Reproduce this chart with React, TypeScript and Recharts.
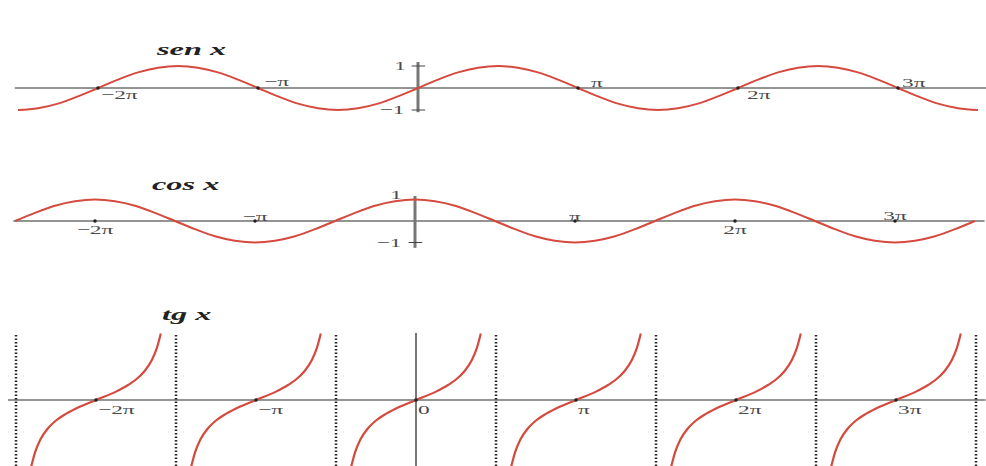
import { ComposedChart, Line, XAxis, YAxis, ReferenceLine, ReferenceDot } from "recharts"

// x positions are in multiples of π
const waveX = [
  -2.5, -2.375, -2.25, -2.125, -2, -1.875, -1.75, -1.625, -1.5, -1.375, -1.25, -1.125,
  -1, -0.875, -0.75, -0.625, -0.5, -0.375, -0.25, -0.125, 0, 0.125, 0.25, 0.375,
  0.5, 0.625, 0.75, 0.875, 1, 1.125, 1.25, 1.375, 1.5, 1.625, 1.75, 1.875,
  2, 2.125, 2.25, 2.375, 2.5, 2.625, 2.75, 2.875, 3, 3.125, 3.25, 3.375, 3.5,
]

const senValues = [
  -1, -0.92, -0.71, -0.38, 0, 0.38, 0.71, 0.92, 1, 0.92, 0.71, 0.38, 0, -0.38, -0.71, -0.92,
  -1, -0.92, -0.71, -0.38, 0, 0.38, 0.71, 0.92, 1, 0.92, 0.71, 0.38, 0, -0.38, -0.71, -0.92,
  -1, -0.92, -0.71, -0.38, 0, 0.38, 0.71, 0.92, 1, 0.92, 0.71, 0.38, 0, -0.38, -0.71, -0.92,
  -1,
]

const cosValues = [
  0, 0.38, 0.71, 0.92, 1, 0.92, 0.71, 0.38, 0, -0.38, -0.71, -0.92, -1, -0.92, -0.71, -0.38,
  0, 0.38, 0.71, 0.92, 1, 0.92, 0.71, 0.38, 0, -0.38, -0.71, -0.92, -1, -0.92, -0.71, -0.38,
  0, 0.38, 0.71, 0.92, 1, 0.92, 0.71, 0.38, 0, -0.38, -0.71, -0.92, -1, -0.92, -0.71, -0.38,
  0,
]

// one branch of tg x, offsets from the branch centre (in π)
const tgOffsets = [-0.405, -0.38, -0.35, -0.3, -0.25, -0.2, -0.125, 0, 0.125, 0.2, 0.25, 0.3, 0.35, 0.38, 0.405]
const tgValues = [-3.25, -2.53, -1.96, -1.38, -1, -0.73, -0.41, 0, 0.41, 0.73, 1, 1.38, 1.96, 2.53, 3.25]
const tgCenters = [-2, -1, 0, 1, 2, 3]
const tgAsymptotes = [-2.5, -1.5, -0.5, 0.5, 1.5, 2.5, 3.5]

const senTicks = [-2, -1, 1, 2, 3]
const senTickLabels = ["−2π", "−π", "π", "2π", "3π"]
const cosTicks = [-2, -1, 1, 2, 3]
const cosTickLabels = ["−2π", "−π", "π", "2π", "3π"]
const tgTicks = [-2, -1, 0, 1, 2, 3]
const tgTickLabels = ["−2π", "−π", "0", "π", "2π", "3π"]

const senData = waveX.map((x, i) => ({ x, y: senValues[i] }))
const cosData = waveX.map((x, i) => ({ x, y: cosValues[i] }))
const tgData = tgCenters.flatMap((c) => [
  ...tgOffsets.map((o, i) => ({ x: c + o, y: tgValues[i] as number | null })),
  { x: c + 0.5, y: null },
])

const SERIF = '"Liberation Serif", "DejaVu Serif", serif'
const RED = "#d64a3e"
const AXIS = "#2a2a2a"
const W = 986
const STRETCH = 1.8

const Stretched = ({ x, y, text, anchor = "start", size = 13, fill = "#4a4a4a" }: any) => (
  <text
    transform={`translate(${x},${y}) scale(${STRETCH},1)`}
    textAnchor={anchor}
    dominantBaseline="central"
    fontFamily={SERIF}
    fontSize={size}
    fill={fill}
  >
    {text}
  </text>
)

// tick dot on the x axis with its label
const tickShape = (text: string, dx: number, dy: number, anchor: string, dot: boolean) => (p: any) => (
  <g>
    {dot && <circle cx={p.cx} cy={p.cy} r={1.8} fill="#222" />}
    <Stretched x={p.cx + dx} y={p.cy + dy} text={text} anchor={anchor} />
  </g>
)

const Title = ({ left, top, text }: { left: number; top: number; text: string }) => (
  <div
    style={{
      position: "absolute",
      left,
      top,
      fontFamily: SERIF,
      fontStyle: "italic",
      fontWeight: "bold",
      fontSize: 17,
      lineHeight: "17px",
      color: "#222",
      transform: `scaleX(1.9)`,
      transformOrigin: "left center",
      whiteSpace: "nowrap",
    }}
  >
    {text}
  </div>
)

const senPlacement = [
  { dx: 3, dy: 7 },
  { dx: 6, dy: -6 },
  { dx: 13, dy: -5 },
  { dx: 9, dy: 7 },
  { dx: 4, dy: -5 },
]
const cosPlacement = [
  { dy: 9 },
  { dy: -4 },
  { dy: -4 },
  { dy: 9 },
  { dy: -5 },
]

export default function App() {
  return (
    <div style={{ position: "absolute", left: 0, top: 0, width: W, height: 466, background: "#fff", overflow: "hidden" }}>
      <Title left={157} top={41} text="sen x" />
      <Title left={152} top={176} text="cos x" />
      <Title left={162} top={306} text="tg x" />

      {/* sen x */}
      <div style={{ position: "absolute", left: 0, top: 44 }}>
        <ComposedChart width={W} height={88} data={senData} margin={{ top: 0, right: 0, bottom: 0, left: 0 }}>
          <XAxis type="number" dataKey="x" domain={[-418 / 160, 568 / 160]} hide allowDataOverflow />
          <YAxis type="number" domain={[-2, 2]} hide allowDataOverflow />
          <ReferenceLine segment={[{ x: -2.52, y: 0 }, { x: 3.55, y: 0 }]} stroke={AXIS} strokeWidth={1.2} />
          <ReferenceLine segment={[{ x: 0, y: -1.1 }, { x: 0, y: 1.18 }]} stroke="#777" strokeWidth={3} />
          <ReferenceLine segment={[{ x: -0.04, y: 1 }, { x: 0.045, y: 1 }]} stroke="#444" />
          <ReferenceLine segment={[{ x: -0.04, y: -1 }, { x: 0.045, y: -1 }]} stroke="#444" />
          <ReferenceDot x={0} y={1} r={0} shape={tickShape("1", -18, 0, "middle", false)} />
          <ReferenceDot x={0} y={-1} r={0} shape={tickShape("−1", -26, 0, "middle", false)} />
          {senTicks.map((t, i) => (
            <ReferenceDot
              key={t}
              x={t}
              y={0}
              r={2}
              shape={tickShape(senTickLabels[i], senPlacement[i].dx, senPlacement[i].dy, "start", true)}
            />
          ))}
          <Line dataKey="y" type="monotone" stroke={RED} strokeWidth={2} dot={false} isAnimationActive={false} />
        </ComposedChart>
      </div>

      {/* cos x */}
      <div style={{ position: "absolute", left: 0, top: 178 }}>
        <ComposedChart width={W} height={86} data={cosData} margin={{ top: 0, right: 0, bottom: 0, left: 0 }}>
          <XAxis type="number" dataKey="x" domain={[-415 / 160, 571 / 160]} hide allowDataOverflow />
          <YAxis type="number" domain={[-2, 2]} hide allowDataOverflow />
          <ReferenceLine segment={[{ x: -2.51, y: 0 }, { x: 3.56, y: 0 }]} stroke={AXIS} strokeWidth={1.2} />
          <ReferenceLine segment={[{ x: 0, y: -1.25 }, { x: 0, y: 1.16 }]} stroke="#777" strokeWidth={3} />
          <ReferenceLine segment={[{ x: -0.04, y: -1 }, { x: 0.045, y: -1 }]} stroke="#444" />
          <ReferenceDot x={0} y={1} r={0} shape={tickShape("1", -19, -5, "middle", false)} />
          <ReferenceDot x={0} y={-1} r={0} shape={tickShape("−1", -26, 0, "middle", false)} />
          {cosTicks.map((t, i) => (
            <ReferenceDot
              key={t}
              x={t}
              y={0}
              r={2}
              shape={tickShape(cosTickLabels[i], 0, cosPlacement[i].dy, "middle", true)}
            />
          ))}
          <Line dataKey="y" type="monotone" stroke={RED} strokeWidth={2} dot={false} isAnimationActive={false} />
        </ComposedChart>
      </div>

      {/* tg x */}
      <div style={{ position: "absolute", left: 0, top: 333 }}>
        <ComposedChart width={W} height={133} data={tgData} margin={{ top: 0, right: 0, bottom: 0, left: 0 }}>
          <XAxis type="number" dataKey="x" domain={[-416 / 160, 570 / 160]} hide allowDataOverflow />
          <YAxis type="number" domain={[-3.22, 3.27]} hide allowDataOverflow />
          <ReferenceLine segment={[{ x: -2.55, y: 0 }, { x: 3.56, y: 0 }]} stroke={AXIS} strokeWidth={1.2} />
          <ReferenceLine x={0} stroke="#777" strokeWidth={2} />
          {tgAsymptotes.map((a) => (
            <ReferenceLine key={a} x={a} stroke="#222" strokeWidth={2.5} strokeDasharray="1.5 2" />
          ))}
          {tgTicks.map((t, i) => (
            <ReferenceDot key={t} x={t} y={0} r={2} shape={tickShape(tgTickLabels[i], 2, 10, "start", true)} />
          ))}
          <Line
            dataKey="y"
            type="monotone"
            stroke={RED}
            strokeWidth={2.2}
            dot={false}
            connectNulls={false}
            isAnimationActive={false}
          />
        </ComposedChart>
      </div>
    </div>
  )
}
